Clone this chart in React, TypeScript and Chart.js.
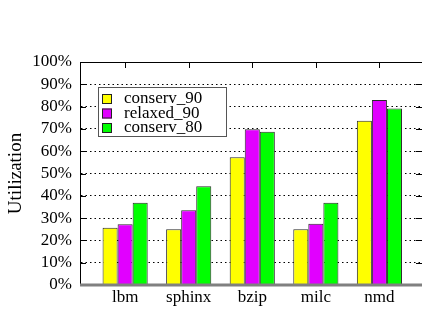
import React, { useEffect, useRef } from 'react';
import { Chart, registerables } from 'chart.js';

Chart.register(...registerables);

const categories = ['lbm', 'sphinx', 'bzip', 'milc', 'nmd'];
const seriesNames = ['conserv_90', 'relaxed_90', 'conserv_80'];
const conserv90 = [25.7, 25.0, 57.3, 25.0, 73.7];
const relaxed90 = [27.2, 33.5, 69.8, 27.5, 83.0];
const conserv80 = [36.9, 44.3, 68.7, 36.9, 79.1];
const yTickValues = [0, 10, 20, 30, 40, 50, 60, 70, 80, 90, 100];

const seriesColors = ['#ffff00', '#e100ff', '#00ff00'];
const FONT = "'Liberation Serif', 'Times New Roman', serif";

const framePlugin = {
  id: 'frame',
  beforeDatasetsDraw(chart: any) {
    const { ctx, chartArea } = chart;
    const { left, right, top } = chartArea;
    const xs = chart.scales.x;
    const ys = chart.scales.y;
    ctx.save();
    ctx.strokeStyle = '#000';
    ctx.lineWidth = 1;
    ctx.beginPath();
    ctx.moveTo(left, top + 0.5);
    ctx.lineTo(right + 2, top + 0.5);
    categories.forEach((_, i) => {
      const x = Math.round(xs.getPixelForValue(i)) + 0.5;
      ctx.moveTo(x, top);
      ctx.lineTo(x, top + 6);
    });
    yTickValues.forEach((v) => {
      if (v === 0 || v === 100) return;
      const y = Math.round(ys.getPixelForValue(v)) + 0.5;
      ctx.moveTo(left, y);
      ctx.lineTo(left + 6, y);
      ctx.moveTo(right - 6, y);
      ctx.lineTo(right, y);
    });
    ctx.stroke();
    ctx.restore();
  },
  afterDatasetsDraw(chart: any) {
    const { ctx, chartArea } = chart;
    const { left, right, bottom, top } = chartArea;
    ctx.save();
    ctx.strokeStyle = '#808080';
    ctx.lineWidth = 3;
    ctx.beginPath();
    ctx.moveTo(left, bottom);
    ctx.lineTo(right, bottom);
    ctx.stroke();
    const bx = left + 18;
    const by = top + 25;
    const bw = 128;
    const bh = 49;
    ctx.fillStyle = '#fff';
    ctx.fillRect(bx, by, bw, bh);
    ctx.strokeStyle = '#555';
    ctx.lineWidth = 1;
    ctx.strokeRect(bx + 0.5, by + 0.5, bw, bh);
    ctx.font = `17px ${FONT}`;
    ctx.textBaseline = 'middle';
    ctx.textAlign = 'left';
    seriesNames.forEach((name, i) => {
      const cy = by + 12 + i * 14.5;
      ctx.fillStyle = seriesColors[i];
      ctx.fillRect(bx + 4, cy - 5, 10, 10);
      ctx.strokeStyle = '#222';
      ctx.strokeRect(bx + 4.5, cy - 4.5, 9, 9);
      ctx.fillStyle = '#000';
      ctx.fillText(name, bx + 26, cy);
    });
    ctx.restore();
  },
};

export default function App() {
  const canvasRef = useRef<HTMLCanvasElement | null>(null);

  useEffect(() => {
    if (!canvasRef.current) return;
    const seriesData = [conserv90, relaxed90, conserv80];
    const chart = new Chart(canvasRef.current, {
      type: 'bar',
      data: {
        datasets: seriesNames.map((name, si) => ({
          label: name,
          data: seriesData[si].map((v, i) => ({ x: i, y: v })),
          backgroundColor: seriesColors[si],
          borderColor: '#2a2a2a',
          borderWidth: 1,
          borderSkipped: 'bottom',
          categoryPercentage: 0.71,
          barPercentage: 1.0,
        })),
      },
      options: {
        responsive: false,
        animation: false,
        devicePixelRatio: 1,
        layout: { padding: { top: 62, right: 0, left: 0, bottom: 0 } },
        plugins: { legend: { display: false }, tooltip: { enabled: false } },
        scales: {
          x: {
            type: 'linear',
            offset: false,
            min: -0.71,
            max: 4.67,
            afterBuildTicks: (scale: any) => {
              scale.ticks = categories.map((_, i) => ({ value: i }));
            },
            afterFit: (scale: any) => {
              scale.height = 27;
            },
            ticks: {
              callback: (v: any) => categories[Math.round(Number(v))] ?? '',
              font: { family: FONT, size: 17 },
              color: '#000',
              padding: 2,
              autoSkip: false,
              maxRotation: 0,
            },
            grid: { display: false, drawTicks: false, offset: false },
            border: { display: false },
          },
          y: {
            min: 0,
            max: 100,
            afterBuildTicks: (scale: any) => {
              scale.ticks = yTickValues.map((v) => ({ value: v }));
            },
            afterFit: (scale: any) => {
              scale.width = 80;
            },
            ticks: {
              callback: (v: any) => `${v}%`,
              font: { family: FONT, size: 17 },
              color: '#000',
              padding: 8,
              autoSkip: false,
            },
            grid: {
              drawTicks: false,
              color: (c: any) =>
                c.tick && (c.tick.value === 0 || c.tick.value === 100) ? 'rgba(0,0,0,0)' : '#000',
              lineWidth: 1,
            },
            border: { display: true, color: '#000', width: 1, dash: [1.5, 3] },
            title: {
              display: true,
              text: 'Utilization',
              font: { family: FONT, size: 19 },
              color: '#000',
              padding: { top: 5, bottom: 0 },
            },
          },
        },
      },
      plugins: [framePlugin],
    });
    return () => chart.destroy();
  }, []);

  return (
    <div style={{ position: 'absolute', left: 0, top: 0, width: 422, height: 312, background: '#fff' }}>
      <canvas ref={canvasRef} width={422} height={312} />
    </div>
  );
}
